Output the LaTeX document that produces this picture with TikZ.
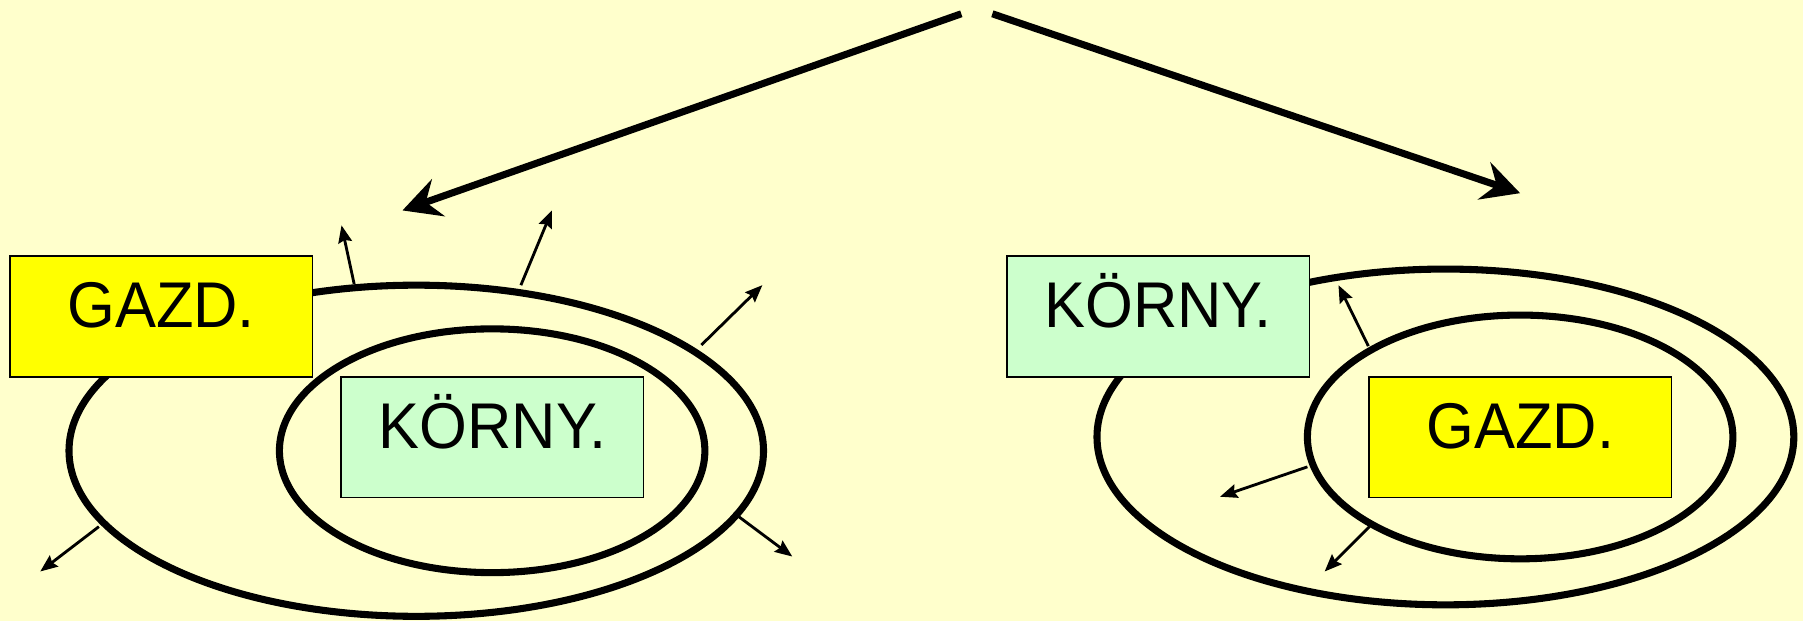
\documentclass[tikz,border=0pt]{standalone}
\usepackage{fontspec}
\setmainfont[FakeStretch=0.95]{Liberation Sans}
\usetikzlibrary{arrows.meta}
\definecolor{bgyellow}{HTML}{FFFFCC}
\definecolor{gazdyellow}{HTML}{FFFF00}
\definecolor{korngreen}{HTML}{CCFFCC}
\tikzset{
  box/.style={draw,line width=0.8pt,inner sep=0pt,anchor=north west,
    minimum width=5.26cm,text height=1.25cm,text depth=0.85cm,
    font=\fontsize{32}{36}\selectfont},
  gazd/.style={box,fill=gazdyellow},
  korn/.style={box,fill=korngreen},
  ring/.style={line width=3.5pt},
  bigarrow/.style={line width=3.5pt,-{Stealth[length=0.66cm,width=0.68cm,inset=0.23cm]}},
  smallarrow/.style={line width=1.4pt,-{Stealth[length=0.3cm,width=0.24cm,inset=0.04cm]}}
}

\begin{document}
\begin{tikzpicture}[x=0.02cm,y=-0.02cm]
\fill[bgyellow] (0,0) rectangle (1568,540);
\useasboundingbox (0,0) rectangle (1568,540);

% the two arrows from the top
\coordinate (topL) at (836,12);
\coordinate (topR) at (863,12);
\coordinate (headL) at (350,183);
\coordinate (headR) at (1322,168);
\draw[bigarrow] (topL) -- (headL);
\draw[bigarrow] (topR) -- (headR);

% left: KORNY inside GAZD
\draw[ring] (362,392) ellipse [x radius=302, y radius=144];
\draw[ring] (428,392) ellipse [x radius=185, y radius=106];
\node[gazd] (gazdL) at (8,222) {GAZD.};
\node[korn] (kornL) at (296,327) {KÖRNY.};

% right: GAZD inside KORNY
\draw[ring] (1257,380) ellipse [x radius=303, y radius=146];
\draw[ring] (1322,380) ellipse [x radius=185, y radius=106];
\node[korn] (kornR) at (875,222) {KÖRNY.};
\node[gazd] (gazdR) at (1190,327) {GAZD.};

\foreach \sx/\sy/\ex/\ey [count=\i] in {308/247/297/196, 453/248/480/183,
    610/300/663/248, 86/458/35/497, 638/446/689/484,
    1190/301/1164/248, 1137/406/1061/432, 1191/458/1152/497}
{
  \coordinate (out\i) at (\sx,\sy);
  \coordinate (tip\i) at (\ex,\ey);
  \draw[smallarrow] (out\i) -- (tip\i);
}
\end{tikzpicture}
\end{document}
